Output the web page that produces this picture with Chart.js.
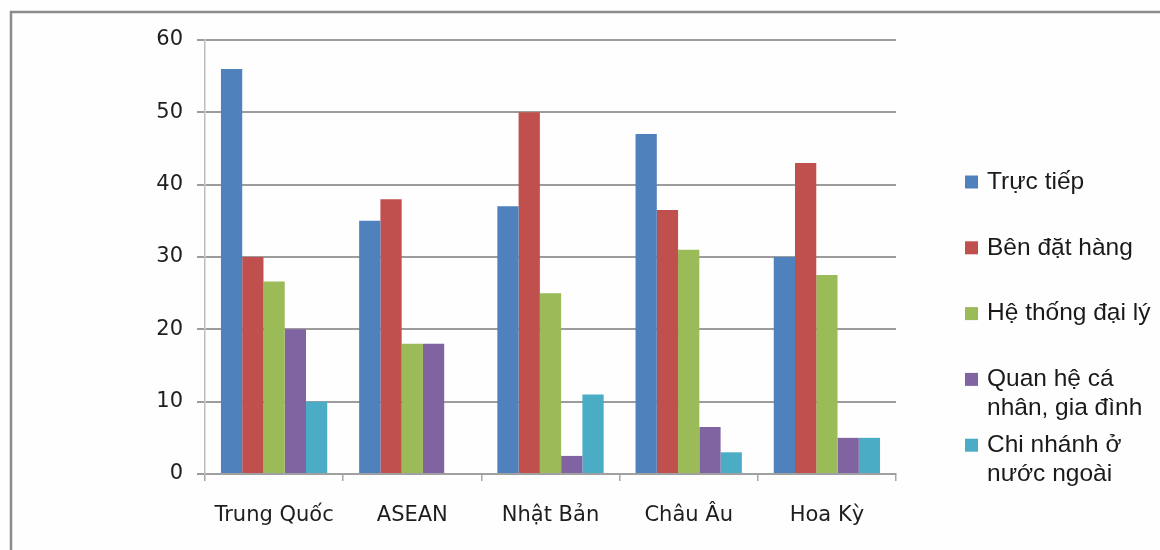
<!DOCTYPE html>
<html>
<head>
<meta charset="utf-8">
<script src="https://cdn.jsdelivr.net/npm/chart.js@4/dist/chart.umd.min.js"></script>
<style>
  html, body { margin: 0; padding: 0; background: #ffffff; }
  #wrap { position: relative; width: 1160px; height: 550px; }
</style>
</head>
<body>
<div id="wrap"><canvas id="chart" width="1160" height="550"></canvas></div>
<script>
// Thị trường và kênh phân phối
const categories = ['Trung Quốc', 'ASEAN', 'Nhật Bản', 'Châu Âu', 'Hoa Kỳ'];
const seriesNames = ['Trực tiếp', 'Bên đặt hàng', 'Hệ thống đại lý', 'Quan hệ cá\nnhân, gia đình', 'Chi nhánh ở\nnước ngoài'];
const trucTiep   = [56, 35, 37, 47, 30];
const benDatHang = [30, 38, 50, 36.5, 43];
const heThongDaiLy = [26.6, 18, 25, 31, 27.5];
const quanHeCaNhan = [20, 18, 2.5, 6.5, 5];
const chiNhanh   = [10, 0, 11, 3, 5];
const yTicks = [0, 10, 20, 30, 40, 50, 60];
const seriesColors = ['#4f81bd', '#c0504d', '#9bbb59', '#8064a2', '#4bacc6'];

const seriesValues = [trucTiep, benDatHang, heThongDaiLy, quanHeCaNhan, chiNhanh];

// Frame around the chart and a legend drawn at the right with wrapped names
const framePlugin = {
  id: 'frame',
  beforeDraw(chart) {
    const ctx = chart.ctx;
    ctx.save();
    ctx.fillStyle = '#fefefe';
    ctx.fillRect(0, 0, chart.width, chart.height);
    ctx.strokeStyle = '#8c8c8c';
    ctx.lineWidth = 2.5;
    ctx.beginPath();
    ctx.moveTo(11, chart.height + 5);
    ctx.lineTo(11, 12);
    ctx.lineTo(chart.width + 5, 12);
    ctx.stroke();
    ctx.restore();
  }
};

const sideLegend = {
  id: 'sideLegend',
  afterDraw(chart) {
    const ctx = chart.ctx;
    ctx.save();
    ctx.font = '24.5px "Liberation Sans", Arial, sans-serif';
    ctx.textBaseline = 'middle';
    chart.data.datasets.forEach((ds, i) => {
      const y0 = 182 + i * 65.8;
      ctx.fillStyle = ds.backgroundColor;
      ctx.fillRect(965, y0 - 6.5, 13, 13);
      ctx.fillStyle = '#1a1a1a';
      seriesNames[i].split('\n').forEach((line, j) => {
        ctx.fillText(line, 987, y0 + j * 29);
      });
    });
    ctx.restore();
  }
};

new Chart(document.getElementById('chart'), {
  type: 'bar',
  data: {
    labels: categories,
    datasets: seriesValues.map((vals, i) => ({
      label: seriesNames[i].replace('\n', ' '),
      data: vals,
      backgroundColor: seriesColors[i],
      borderWidth: 0,
      categoryPercentage: 5 / 6.5,
      barPercentage: 1.0
    }))
  },
  options: {
    responsive: false,
    animation: false,
    layout: { padding: { left: 0, right: 264, top: 40, bottom: 0 } },
    plugins: {
      legend: { display: false },
      tooltip: { enabled: false }
    },
    scales: {
      x: {
        grid: {
          display: true,
          drawOnChartArea: false,
          drawTicks: true,
          tickLength: 7,
          color: '#a6a6a6',
          lineWidth: 1.5,
          offset: true
        },
        border: { display: true, color: '#a0a0a0', width: 2 },
        ticks: {
          font: { family: '"DejaVu Sans", sans-serif', size: 21 },
          color: '#1e1e1e',
          padding: 22
        },
        afterFit(scale) { scale.height = 76; }
      },
      y: {
        min: 0,
        max: 60,
        afterBuildTicks(scale) { scale.ticks = yTicks.map(v => ({ value: v })); },
        grid: {
          color: '#9c9c9c',
          lineWidth: 2,
          drawTicks: true,
          tickLength: 8
        },
        border: { display: true, color: '#bdbdbd', width: 1.5 },
        ticks: {
          font: { family: '"DejaVu Sans", sans-serif', size: 21 },
          color: '#1e1e1e',
          padding: 14
        },
        afterFit(scale) { scale.width = 205; }
      }
    }
  },
  plugins: [framePlugin, sideLegend]
});
</script>
</body>
</html>
